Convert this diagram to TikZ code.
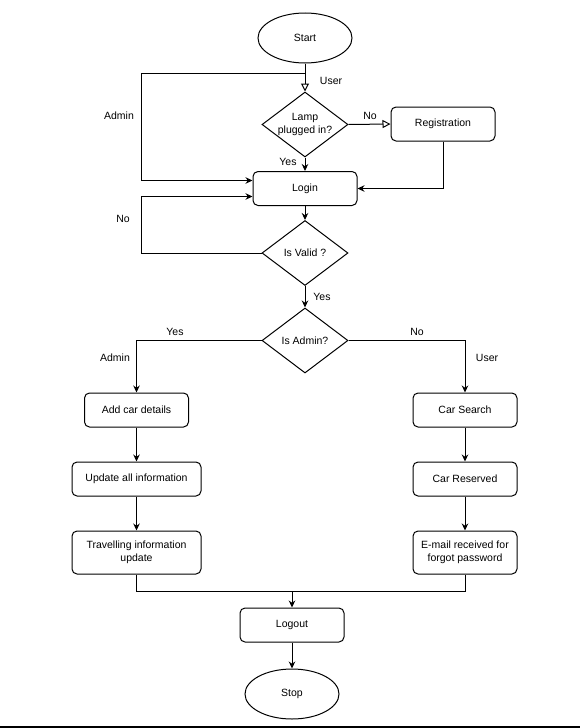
\documentclass[tikz,border=0pt]{standalone}
\usepackage{fontspec}
\setmainfont{Liberation Sans}
\usetikzlibrary{shapes.geometric,arrows.meta}
\begin{document}
\begin{tikzpicture}[x=1pt,y=-1pt,
  every node/.style={font=\fontsize{10.5}{12.5}\selectfont},
  line width=1pt,
  box/.style={draw,rounded corners=5pt,minimum width=104pt,minimum height=34pt,inner sep=2pt,align=center},
  widebox/.style={box,minimum width=129pt,minimum height=34pt},
  tallbox/.style={box,minimum height=43pt},
  term/.style={draw,ellipse,minimum width=94pt,minimum height=50pt,inner sep=0pt},
  dec/.style={draw,diamond,minimum width=86pt,minimum height=65pt,inner sep=0pt,align=center},
  arr/.style={-{Stealth[length=7pt,width=6.5pt]}},
  openarr/.style={-{Triangle[open,length=8pt,width=8pt]}},
  lbl/.style={inner sep=1pt}]
\useasboundingbox (0,0) rectangle (580,728);
\node[term] (start) at (305,38) {Start};
\node[dec] (lamp) at (305,124.5) {\makebox[0pt]{Lamp}\\\makebox[0pt]{plugged in?}};
\node[box] (reg) at (443,124) {Registration};
\node[box] (login) at (305,188.5) {Login};
\node[dec] (valid) at (305,253) {Is Valid ?};
\node[dec] (admin) at (305,340.5) {Is Admin?};
\node[box] (addcar) at (136.5,410) {Add car details};
\node[widebox] (update) at (136.5,479) {Update all information};
\node[widebox,minimum height=43pt] (travel) at (136.5,552.5) {Travelling information\\update};
\node[box] (search) at (465,410) {Car Search};
\node[box] (reserved) at (465,479) {Car Reserved};
\node[tallbox] (email) at (465,552.5) {E-mail received for\\forgot password};
\node[box] (logout) at (292,625) {Logout};
\node[term] (stop) at (292,694) {Stop};

\coordinate (sp) at (305,73);
\coordinate (ladm) at (141,73);
\coordinate (lno) at (141,253);
\coordinate (bend) at (136.5,591);
\coordinate (join) at (292,591);

\draw (start.south) -- (sp);
\draw[openarr] (sp) -- (lamp.north);
\draw[arr] (sp) -- (ladm) |- ([yshift=8pt]login.west);
\draw[openarr] (lamp.east) -- (reg.west);
\draw[arr] (reg.south) |- (login.east);
\draw[arr] (lamp.south) -- (login.north);
\draw[arr] (login.south) -- (valid.north);
\draw[arr] (valid.west) -- (lno) |- ([yshift=-8pt]login.west);
\draw[arr] (valid.south) -- (admin.north);
\draw[arr] (admin.west) -| (addcar.north);
\draw[arr] (admin.east) -| (search.north);
\draw[arr] (addcar) -- (update);
\draw[arr] (update) -- (travel);
\draw[arr] (search) -- (reserved);
\draw[arr] (reserved) -- (email);
\draw (travel.south) -- (bend) -| (email.south);
\draw[arr] (join) -- (logout.north);
\draw[arr] (logout.south) -- (stop.north);

\node[lbl] (l1) at (331,81) {User};
\node[lbl] (l2) at (119,116) {Admin};
\node[lbl] (l3) at (370,116) {No};
\node[lbl] (l4) at (288,162) {Yes};
\node[lbl] (l5) at (123,219) {No};
\node[lbl] (l6) at (322,297) {Yes};
\node[lbl] (l7) at (175,332) {Yes};
\node[lbl] (l8) at (417,332) {No};
\node[lbl] (l9) at (115,358) {Admin};
\node[lbl] (l10) at (487,358) {User};

\coordinate (bl) at (0,727);
\coordinate (br) at (580,727);
\draw[line width=1.5pt] (bl) -- (br);
\end{tikzpicture}
\end{document}
